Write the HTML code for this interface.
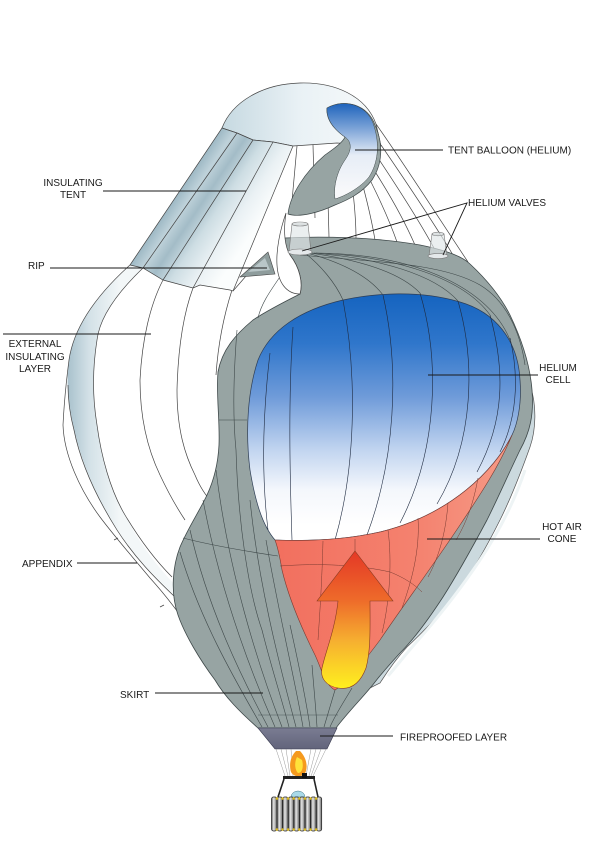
<!DOCTYPE html>
<html><head><meta charset="utf-8">
<style>
html,body{margin:0;padding:0;background:#fff;}
svg{display:block;}
text{font-family:"Liberation Sans",Arial,sans-serif;font-size:10px;fill:#1a1a1a;}
</style></head><body>
<svg width="600" height="846" viewBox="0 0 600 846" xmlns="http://www.w3.org/2000/svg">
<defs>
 <linearGradient id="heli" x1="0" y1="292" x2="0" y2="525" gradientUnits="userSpaceOnUse">
  <stop offset="0" stop-color="#1463bf"/>
  <stop offset="0.22" stop-color="#2f76cb"/>
  <stop offset="0.45" stop-color="#6f9bd9"/>
  <stop offset="0.68" stop-color="#c2d5f0"/>
  <stop offset="0.85" stop-color="#f4f7fc"/>
  <stop offset="1" stop-color="#ffffff"/>
 </linearGradient>
 <linearGradient id="cone" x1="280" y1="0" x2="510" y2="0" gradientUnits="userSpaceOnUse">
  <stop offset="0" stop-color="#f2705f"/>
  <stop offset="0.6" stop-color="#f4826f"/>
  <stop offset="1" stop-color="#f69a86"/>
 </linearGradient>
 <linearGradient id="arrow" x1="0" y1="551" x2="0" y2="690" gradientUnits="userSpaceOnUse">
  <stop offset="0" stop-color="#e43826"/>
  <stop offset="0.35" stop-color="#ee6a2a"/>
  <stop offset="0.65" stop-color="#f6b030"/>
  <stop offset="1" stop-color="#fff21e"/>
 </linearGradient>
 <linearGradient id="tp" x1="176" y1="196" x2="246" y2="243" gradientUnits="userSpaceOnUse">
  <stop offset="0" stop-color="#9db8c4"/>
  <stop offset="0.15" stop-color="#bfd2da"/>
  <stop offset="0.3" stop-color="#a3bcc7"/>
  <stop offset="0.5" stop-color="#cddde3"/>
  <stop offset="0.75" stop-color="#eaf1f4"/>
  <stop offset="1" stop-color="#fbfdfd"/>
 </linearGradient>
 <linearGradient id="dome" x1="222" y1="0" x2="376" y2="0" gradientUnits="userSpaceOnUse">
  <stop offset="0" stop-color="#c6d9e1"/>
  <stop offset="0.5" stop-color="#e9f1f5"/>
  <stop offset="1" stop-color="#f7fafb"/>
 </linearGradient>
 <linearGradient id="lband" x1="64" y1="0" x2="120" y2="0" gradientUnits="userSpaceOnUse">
  <stop offset="0" stop-color="#a2bcc8"/>
  <stop offset="0.45" stop-color="#d3e1e7"/>
  <stop offset="1" stop-color="#f3f7f8"/>
 </linearGradient>
 <linearGradient id="tb" x1="0" y1="103" x2="0" y2="190" gradientUnits="userSpaceOnUse">
  <stop offset="0" stop-color="#1c62bb"/>
  <stop offset="0.3" stop-color="#7ea5d8"/>
  <stop offset="0.6" stop-color="#e6edf6"/>
  <stop offset="1" stop-color="#f7f8fa"/>
 </linearGradient>
 <linearGradient id="fp" x1="0" y1="728" x2="0" y2="749" gradientUnits="userSpaceOnUse">
  <stop offset="0" stop-color="#7a7c92"/>
  <stop offset="1" stop-color="#62647b"/>
 </linearGradient>
 <linearGradient id="cyl" x1="0" y1="0" x2="1" y2="0">
  <stop offset="0" stop-color="#555"/>
  <stop offset="0.4" stop-color="#e8e8e8"/>
  <stop offset="1" stop-color="#6a6a6a"/>
 </linearGradient>
</defs>

<rect width="600" height="846" fill="#fff"/>

<!-- right outer light band -->
<path d="M530,385 C537,405 536,430 530,447 C520,475 510,500 500,520 C485,550 470,575 457,593 C440,615 422,633 407,647 C395,660 387,672 380,683 L366,690 L352,690 L470,500 L515,400 Z" fill="#cbd9de" stroke="#555" stroke-width="0.7"/>
<path d="M525,470 C515,500 500,530 480,560 C460,590 440,615 420,638 C405,655 395,668 388,676" fill="none" stroke="#eef4f5" stroke-width="3"/>

<!-- left blue band -->
<path d="M130,265 C100,292 74,325 69,360 C66,383 68,400 72,420 C80,460 95,495 117,530 C135,558 155,578 175,597 L180,590 C160,570 140,545 125,515 C110,490 101,455 97,425 C92,395 93,365 97,340 C100,315 120,290 143,268 Z" fill="url(#lband)"/>

<!-- left external layer lines -->
<g fill="none" stroke="#444" stroke-width="0.7">
 <path d="M130,265 C100,292 74,325 69,360 C66,383 64,405 63,425 C64,455 80,490 100,517 C115,537 135,560 150,578 C170,600 190,628 205,652 C213,665 218,676 220,684 C225,689 232,688 236,683"/>
 <path d="M68,385 C68,400 70,415 74,430 C80,460 95,495 117,530 C135,558 155,578 175,597"/>
 <path d="M143,268 C120,290 100,315 97,340 C93,365 92,395 97,425 C101,455 110,490 125,515 C140,540 155,560 172,577"/>
 <path d="M163,280 C150,305 142,340 140,380 C140,420 148,450 160,475 C168,492 175,505 185,520"/>
 <path d="M193,288 C183,315 178,350 177,390 C177,430 185,455 195,475 C200,487 205,495 212,502"/>
 <path d="M232,290 C224,315 218,345 216,375"/>
 <path d="M114,540 l4,-2 M160,607 l4,-2"/>
</g>

<!-- dome -->
<path d="M222,128 C232,102 262,84 300,83 C335,82 366,96 376,124 L381,146 L337,143 L293,146 L273,142 L253,140 L237,133 Z" fill="url(#dome)" stroke="#444" stroke-width="0.7"/>
<!-- tent panels -->
<path d="M130,265 L222,128 L237,133 L253,140 L273,142 L293,146 L233,291 L230,290 L200,285 L193,288 L163,280 L143,268 Z" fill="url(#tp)" stroke="#444" stroke-width="0.7"/>
<g fill="none" stroke="#444" stroke-width="0.7">
 <path d="M237,133 L143,268"/>
 <path d="M253,140 L163,280"/>
 <path d="M273,142 L193,288"/>
 <path d="M233,291 L240,283 L246,276"/>
 <path d="M297,146 L291,212"/>
 <path d="M313,145 L315,218"/>
 <!-- cords -->
 <path d="M328,201 L329,237"/>
 <path d="M353,192 C355,210 356,225 356,239"/>
 <path d="M363,186 C368,205 372,222 375,240"/>
 <path d="M370,180 C380,200 390,222 397,242"/>
 <path d="M374,170 C390,195 405,222 415,245"/>
 <path d="M378,158 C398,188 420,222 435,250"/>
 <path d="M381,145 C405,180 432,220 453,255"/>
 <path d="M376,124 C405,165 440,220 468,262"/>
</g>

<!-- gray shell -->
<path d="M285,238 C320,236 375,237 420,245 C445,250 462,256 470,264 C485,278 500,295 510,315 C522,340 530,365 532,390 C534,415 530,432 520,450 C508,475 498,498 487,520 C472,548 457,575 443,597 C428,620 413,640 400,653 C390,664 382,673 375,682 C366,694 348,712 336,728 L258,728 C240,712 225,697 215,680 C200,660 185,635 178,615 C170,592 173,565 180,547 C188,528 200,510 207,495 C214,480 218,465 219,445 C220,420 216,395 218,372 C222,350 235,335 253,320 C268,310 288,300 300,294 C303,283 300,268 290,255 C286,249 284,243 285,238 Z" fill="#97a4a3" stroke="#3e4849" stroke-width="0.8"/>

<g fill="none" stroke="#3e4849" stroke-width="0.6">
 <!-- top band meridians -->
 <path d="M305,253 C320,265 335,282 343,300"/>
 <path d="M307,253 C340,262 368,275 383,295"/>
 <path d="M310,253 C360,260 400,272 420,293"/>
 <path d="M312,253 C380,258 435,275 458,301"/>
 <path d="M314,253 C400,256 465,280 490,315"/>
 <path d="M316,253 C420,254 490,290 510,340"/>
 <path d="M300,255 C370,262 440,262 480,285 C505,300 520,330 525,365"/>
 <path d="M290,262 C275,285 262,300 258,318"/>
 <!-- left strip -->
 <path d="M237,330 C233,380 233,420 236,450"/>
 <path d="M219,420 L247,420"/>
 <!-- skirt -->
 <path d="M180,552 C200,620 235,680 262,727"/>
 <path d="M190,530 C208,610 243,680 268,727"/>
 <path d="M203,500 C220,590 250,670 275,727"/>
 <path d="M216,470 C228,570 258,665 282,727"/>
 <path d="M236,450 C238,520 248,590 262,630 C272,670 282,700 289,727"/>
 <path d="M250,500 C258,580 278,660 296,727"/>
 <path d="M266,540 C278,610 295,680 303,727"/>
 <path d="M290,625 C300,670 306,700 310,727"/>
 <path d="M312,665 C314,690 316,710 317,727"/>
 <path d="M335,690 L324,727"/>
 <path d="M352,688 C345,700 335,715 330,727"/>
 <path d="M183,538 C210,545 250,552 278,556"/>
 <path d="M258,715 L338,715" stroke-width="0.4"/>
</g>

<!-- helium cell -->
<path d="M343,300 C375,293 420,290 460,302 C495,312 518,340 520,380 C522,405 517,425 512,435 C495,470 450,515 380,532 C340,541 300,541 275,540 C262,525 255,500 250,470 C245,430 248,390 258,360 C270,330 300,310 343,300 Z" fill="url(#heli)" stroke="#2d3d55" stroke-width="0.7"/>
<g fill="none" stroke="#1e2a40" stroke-width="0.6">
 <path d="M293,327 C288,400 290,480 292,540"/>
 <path d="M343,300 C358,380 355,470 335,540"/>
 <path d="M383,295 C400,370 395,460 367,535"/>
 <path d="M420,293 C440,360 438,450 400,523"/>
 <path d="M458,301 C475,360 475,440 437,504"/>
 <path d="M490,315 C505,370 505,420 477,472"/>
 <path d="M510,338 C520,380 516,420 500,452"/>
 <path d="M270,353 C262,420 262,480 268,530"/>
</g>

<!-- hot air cone -->
<path d="M275,540 C300,541 340,541 380,532 C450,515 495,470 512,435 C500,465 480,495 460,525 C430,570 400,610 380,640 C365,660 350,680 335,690 C325,685 322,670 315,655 C300,625 288,595 282,570 C280,558 278,548 275,540 Z" fill="url(#cone)" stroke="#7a3a30" stroke-width="0.6"/>
<g fill="none" stroke="#7a3a30" stroke-width="0.5">
 <path d="M323,541 C322,580 320,610 318,640"/>
 <path d="M355,539 L355,552"/>
 <path d="M388,530 C392,560 390,600 382,633"/>
 <path d="M418,518 C420,550 412,580 402,608"/>
 <path d="M448,503 C446,530 440,555 428,577"/>
 <path d="M478,478 C474,500 468,520 456,540"/>
 <path d="M280,566 C320,563 360,565 390,572 C405,578 415,585 422,592"/>
</g>

<!-- arrow -->
<path d="M355,551 L393,601 L370,601 C370,625 371,650 366,668 C360,684 350,690 338,688 C326,686 320,678 322,668 C326,650 335,630 338,601 L317,601 Z" fill="url(#arrow)" stroke="#8a3a20" stroke-width="0.6"/>

<!-- neck & rip -->
<path d="M286,213 C280,230 276,250 277,265 C278,282 286,294 300,294 C303,283 300,268 290,255 C285,247 283,232 286,213 Z" fill="#fff" stroke="#444" stroke-width="0.7"/>
<path d="M240,277 L268,252 L275,274 Z" fill="#8e9c9c" stroke="#444" stroke-width="0.6"/>
<path d="M248,272 L265,258 L270,270 Z" fill="#b9c6c8"/>

<!-- tent balloon -->
<path d="M327,108 C345,98 368,105 375,125 C384,145 382,165 372,180 C362,193 348,200 335,205 C320,212 300,218 288,214 C290,195 305,172 325,155 C335,148 343,142 345,137 C335,130 326,120 327,108 Z" fill="#97a4a3" stroke="#3e4849" stroke-width="0.7"/>
<path d="M327,108 C345,98 368,105 374,126 C380,145 378,163 369,177 C360,188 345,196 335,199 C333,185 338,170 345,160 C352,150 352,142 345,137 C335,130 326,120 327,108 Z" fill="url(#tb)" stroke="#3e4849" stroke-width="0.5"/>

<!-- valves -->
<g stroke="#777" stroke-width="0.6" fill="rgba(225,230,232,0.65)">
 <path d="M292,224 L289,252 L311,252 L308,224 Z"/>
 <ellipse cx="300" cy="224" rx="8" ry="2"/>
 <ellipse cx="300" cy="252" rx="12" ry="3" fill="#e4e8ea"/>
 <path d="M432,234 L429,256 L447,256 L444,234 Z"/>
 <ellipse cx="438" cy="234" rx="6" ry="1.8"/>
 <ellipse cx="438" cy="256" rx="10" ry="2.6" fill="#e4e8ea"/>
</g>

<!-- fireproofed layer -->
<path d="M258,728 L337,728 L327,749 L275,749 Z" fill="url(#fp)" stroke="#3a3c50" stroke-width="0.6"/>

<!-- burner cords -->
<g stroke="#9a9a9a" stroke-width="0.5">
 <line x1="276" y1="749" x2="285" y2="776"/><line x1="281" y1="749" x2="288" y2="776"/>
 <line x1="286" y1="749" x2="290" y2="776"/><line x1="291" y1="749" x2="293" y2="776"/>
 <line x1="311" y1="749" x2="306" y2="776"/><line x1="316" y1="749" x2="309" y2="776"/>
 <line x1="321" y1="749" x2="311" y2="776"/><line x1="326" y1="749" x2="313" y2="776"/>
</g>
<!-- flame -->
<path d="M296,751 C290,757 289,765 291,772 C294,778 304,778 306,771 C308,764 305,756 300,751 Z" fill="#f59a1e"/>
<path d="M297,757 C294,763 295,770 298,773 C302,773 304,767 302,760 Z" fill="#ffe23a"/>
<!-- frame -->
<rect x="283" y="776" width="32" height="3" fill="#222"/>
<rect x="302" y="773" width="5" height="5" fill="#111"/>
<line x1="284" y1="779" x2="278" y2="797" stroke="#222" stroke-width="1.6"/>
<line x1="314" y1="779" x2="318" y2="797" stroke="#222" stroke-width="1.6"/>
<path d="M291,797 A7,6 0 0 1 305,797 Z" fill="#a9d9e8" stroke="#4a7a8a" stroke-width="0.5"/>
<!-- basket -->
<g stroke="#222" stroke-width="0.7" fill="url(#cyl)">
 <rect x="271.5" y="797" width="5.4" height="34" rx="2"/>
 <rect x="277.1" y="797" width="5.4" height="34" rx="2"/>
 <rect x="282.7" y="797" width="5.4" height="34" rx="2"/>
 <rect x="288.3" y="797" width="5.4" height="34" rx="2"/>
 <rect x="293.9" y="797" width="5.4" height="34" rx="2"/>
 <rect x="299.5" y="797" width="5.4" height="34" rx="2"/>
 <rect x="305.1" y="797" width="5.4" height="34" rx="2"/>
 <rect x="310.7" y="797" width="5.4" height="34" rx="2"/>
 <rect x="316.3" y="797" width="5.4" height="34" rx="2"/>
</g>
<g fill="#d8b820">
 <circle cx="276.9" cy="798.5" r="1.3"/><circle cx="282.5" cy="798.5" r="1.3"/><circle cx="288.1" cy="798.5" r="1.3"/><circle cx="293.7" cy="798.5" r="1.3"/><circle cx="299.3" cy="798.5" r="1.3"/><circle cx="304.9" cy="798.5" r="1.3"/><circle cx="310.5" cy="798.5" r="1.3"/><circle cx="316.1" cy="798.5" r="1.3"/>
 <circle cx="276.9" cy="829.5" r="1.3"/><circle cx="282.5" cy="829.5" r="1.3"/><circle cx="288.1" cy="829.5" r="1.3"/><circle cx="293.7" cy="829.5" r="1.3"/><circle cx="299.3" cy="829.5" r="1.3"/><circle cx="304.9" cy="829.5" r="1.3"/><circle cx="310.5" cy="829.5" r="1.3"/><circle cx="316.1" cy="829.5" r="1.3"/>
</g>

<!-- leader lines -->
<g stroke="#1a1a1a" stroke-width="0.9" fill="none">
 <line x1="355" y1="150" x2="443" y2="150"/>
 <path d="M302,251 L467,203 L443,255"/>
 <line x1="428" y1="375" x2="538" y2="375"/>
 <line x1="427" y1="539" x2="540" y2="539"/>
 <line x1="320" y1="736" x2="393" y2="736"/>
 <line x1="103" y1="191" x2="246" y2="191"/>
 <line x1="50" y1="268" x2="267" y2="268"/>
 <line x1="3" y1="334" x2="151" y2="334"/>
 <line x1="77" y1="563" x2="137" y2="563"/>
 <line x1="155" y1="693" x2="263" y2="693"/>
</g>

<!-- labels -->
<text x="448" y="153.5">TENT BALLOON (HELIUM)</text>
<text x="468" y="206">HELIUM VALVES</text>
<text x="558" y="371" text-anchor="middle">HELIUM</text>
<text x="558" y="383" text-anchor="middle">CELL</text>
<text x="562" y="530" text-anchor="middle">HOT AIR</text>
<text x="562" y="542" text-anchor="middle">CONE</text>
<text x="400" y="740.5">FIREPROOFED LAYER</text>
<text x="73" y="186" text-anchor="middle">INSULATING</text>
<text x="73" y="198" text-anchor="middle">TENT</text>
<text x="28" y="269">RIP</text>
<text x="35" y="347" text-anchor="middle">EXTERNAL</text>
<text x="35" y="360" text-anchor="middle">INSULATING</text>
<text x="35" y="372" text-anchor="middle">LAYER</text>
<text x="22" y="567">APPENDIX</text>
<text x="120" y="698">SKIRT</text>
</svg>
</body></html>
